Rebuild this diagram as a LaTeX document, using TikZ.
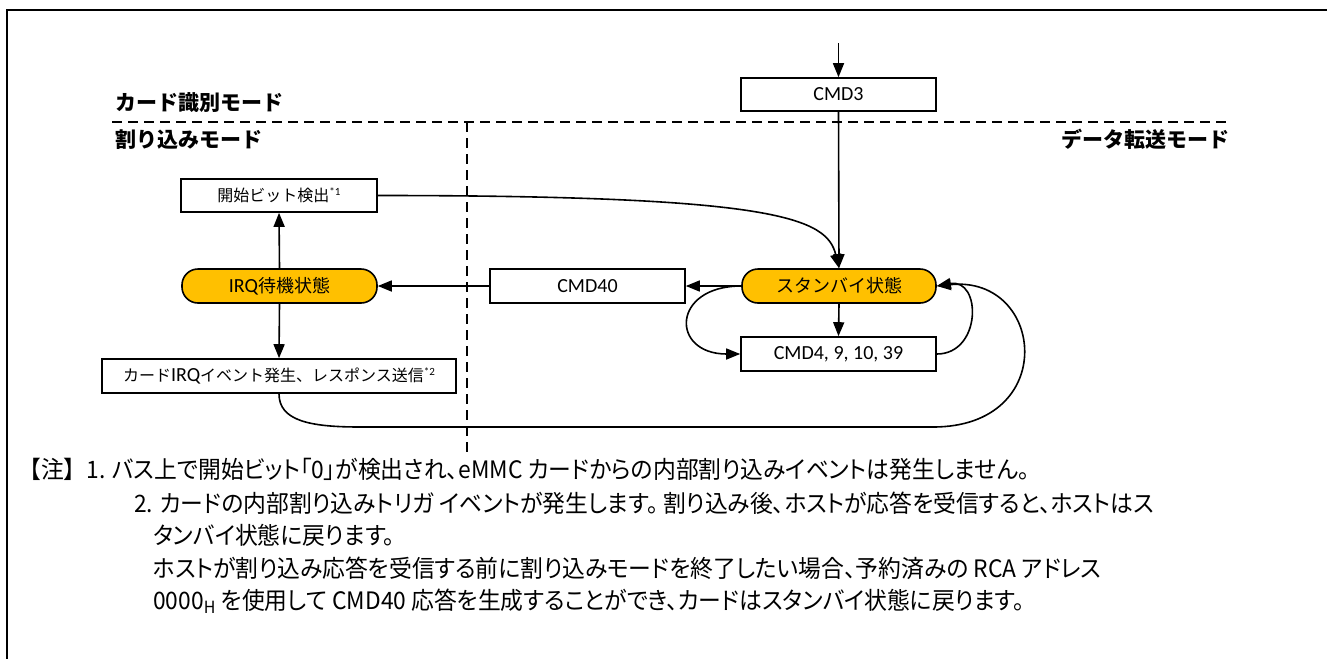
\documentclass[tikz,border=0pt]{standalone}
\usepackage{fontspec}
\setmainfont{Carlito}
\newfontfamily\jp{Noto Sans CJK JP}
\newfontfamily\notefont[RawFeature=+palt,FakeStretch=0.95]{Noto Sans CJK JP}
\newfontfamily\notefontfw[FakeStretch=0.95]{Noto Sans CJK JP}
\usetikzlibrary{arrows.meta}
\definecolor{stfill}{HTML}{FFC000}
\newcommand\lat[1]{{\rmfamily\fontsize{20}{21}\selectfont #1}}
\newcommand\sups[1]{\raisebox{6.5pt}{\rmfamily\fontsize{11}{11}\selectfont #1}}
\begin{document}
\begin{tikzpicture}[x=1pt,y=-1pt,
  box/.style={draw, line width=1.6pt, minimum width=195pt, minimum height=33pt, inner sep=0pt,
    font=\fontsize{16}{19}\selectfont\jp},
  state/.style={box, rounded corners=16pt, fill=stfill, font=\fontsize{18}{20}\selectfont\jp},
  conn/.style={line width=1.6pt, -{Triangle[length=14pt,width=11pt]}},
  modeline/.style={line width=2.6pt, dash pattern=on 10pt off 6pt},
  modelabel/.style={inner sep=0pt, font=\fontsize{21}{24}\selectfont\jp\bfseries},
  note/.style={anchor=west, inner sep=0pt, font=\fontsize{24}{26}\selectfont\notefont}]
\useasboundingbox (0,0) rectangle (1327,659);
% frame
\draw[line width=1.8pt] (1327,10) -- (7,10) -- (7,659);
% mode borders
\coordinate (hl) at (112,122);
\coordinate (hr) at (1230,122);
\coordinate (vt) at (467,122);
\coordinate (vb) at (467,455);
\draw[modeline] (hl) -- (hr);
\draw[modeline] (vt) -- (vb);
\node[modelabel, anchor=west] (lid) at (115,103) {カード識別モード};
\node[modelabel, anchor=west] (lirq) at (115,140) {割り込みモード};
\node[modelabel, anchor=east] (ldt) at (1230,139) {データ転送モード};
% nodes
\node[box] (cmd3) at (838.5,94.5) {\lat{CMD3}};
\node[box, minimum width=196pt] (start) at (279,195.5) {開始ビット検出\sups{*1}};
\node[state, minimum height=34pt] (irq) at (279.5,286) {\lat{IRQ}待機状態};
\node[box, minimum height=34pt] (cmd40) at (587.5,286) {\lat{CMD40}};
\node[state, minimum width=194pt, minimum height=34pt] (stby) at (839,286) {スタンバイ状態};
\node[box, minimum height=34pt] (cmd4) at (838.5,354) {\lat{CMD4, 9, 10, 39}};
\node[box, minimum width=354pt, minimum height=34pt] (card) at (279,376) {カード\lat{IRQ}イベント発生、レスポンス送信\sups{*2}};
% connectors
\coordinate (in3) at (838.5,43);
\draw[conn] (in3) -- (cmd3.north);
\draw[conn] (cmd3.south) -- (stby.north);
\draw[conn] (start.east) .. controls +(400,0) and +(-12,-50) .. (stby.north);
\draw[conn] (stby.west) -- (cmd40.east);
\draw[conn] (cmd40.west) -- (irq.east);
\draw[conn] (irq.north) -- (start.south);
\draw[conn] (irq.south) -- (card.north);
\draw[conn] (stby.south) -- (cmd4.north);
\draw[conn] (stby.west) .. controls +(-70,0) and +(-70,0) .. (cmd4.west);
\draw[conn] (cmd4.east) .. controls +(45,0) and +(45,-8) .. (stby.east);
\coordinate (b1) at (360,427);
\coordinate (b2) at (933,427);
\draw[conn] (card.south) .. controls +(0,27) and +(-50,0) .. (b1) -- (b2)
  .. controls +(127,0) and +(108,-11) .. (stby.east);
% notes
\node[note] (n1) at (18,469) {{\notefontfw 【注】}1. バス上で開始ビット「0」が検出され、eMMC カードからの内部割り込みイベントは発生しません。};
\node[note] (n2) at (134,503) {2. カードの内部割り込みトリガ イベントが発生します。 割り込み後、ホストが応答を受信すると、ホストはス};
\node[note] (n3) at (153,535) {タンバイ状態に戻ります。};
\node[note] (n4) at (153,568) {ホストが割り込み応答を受信する前に割り込みモードを終了したい場合、予約済みの RCA アドレス};
\node[note] (n5) at (153,601) {0000\textsubscript{H} を使用して CMD40 応答を生成することができ、カードはスタンバイ状態に戻ります。};
\end{tikzpicture}
\end{document}
